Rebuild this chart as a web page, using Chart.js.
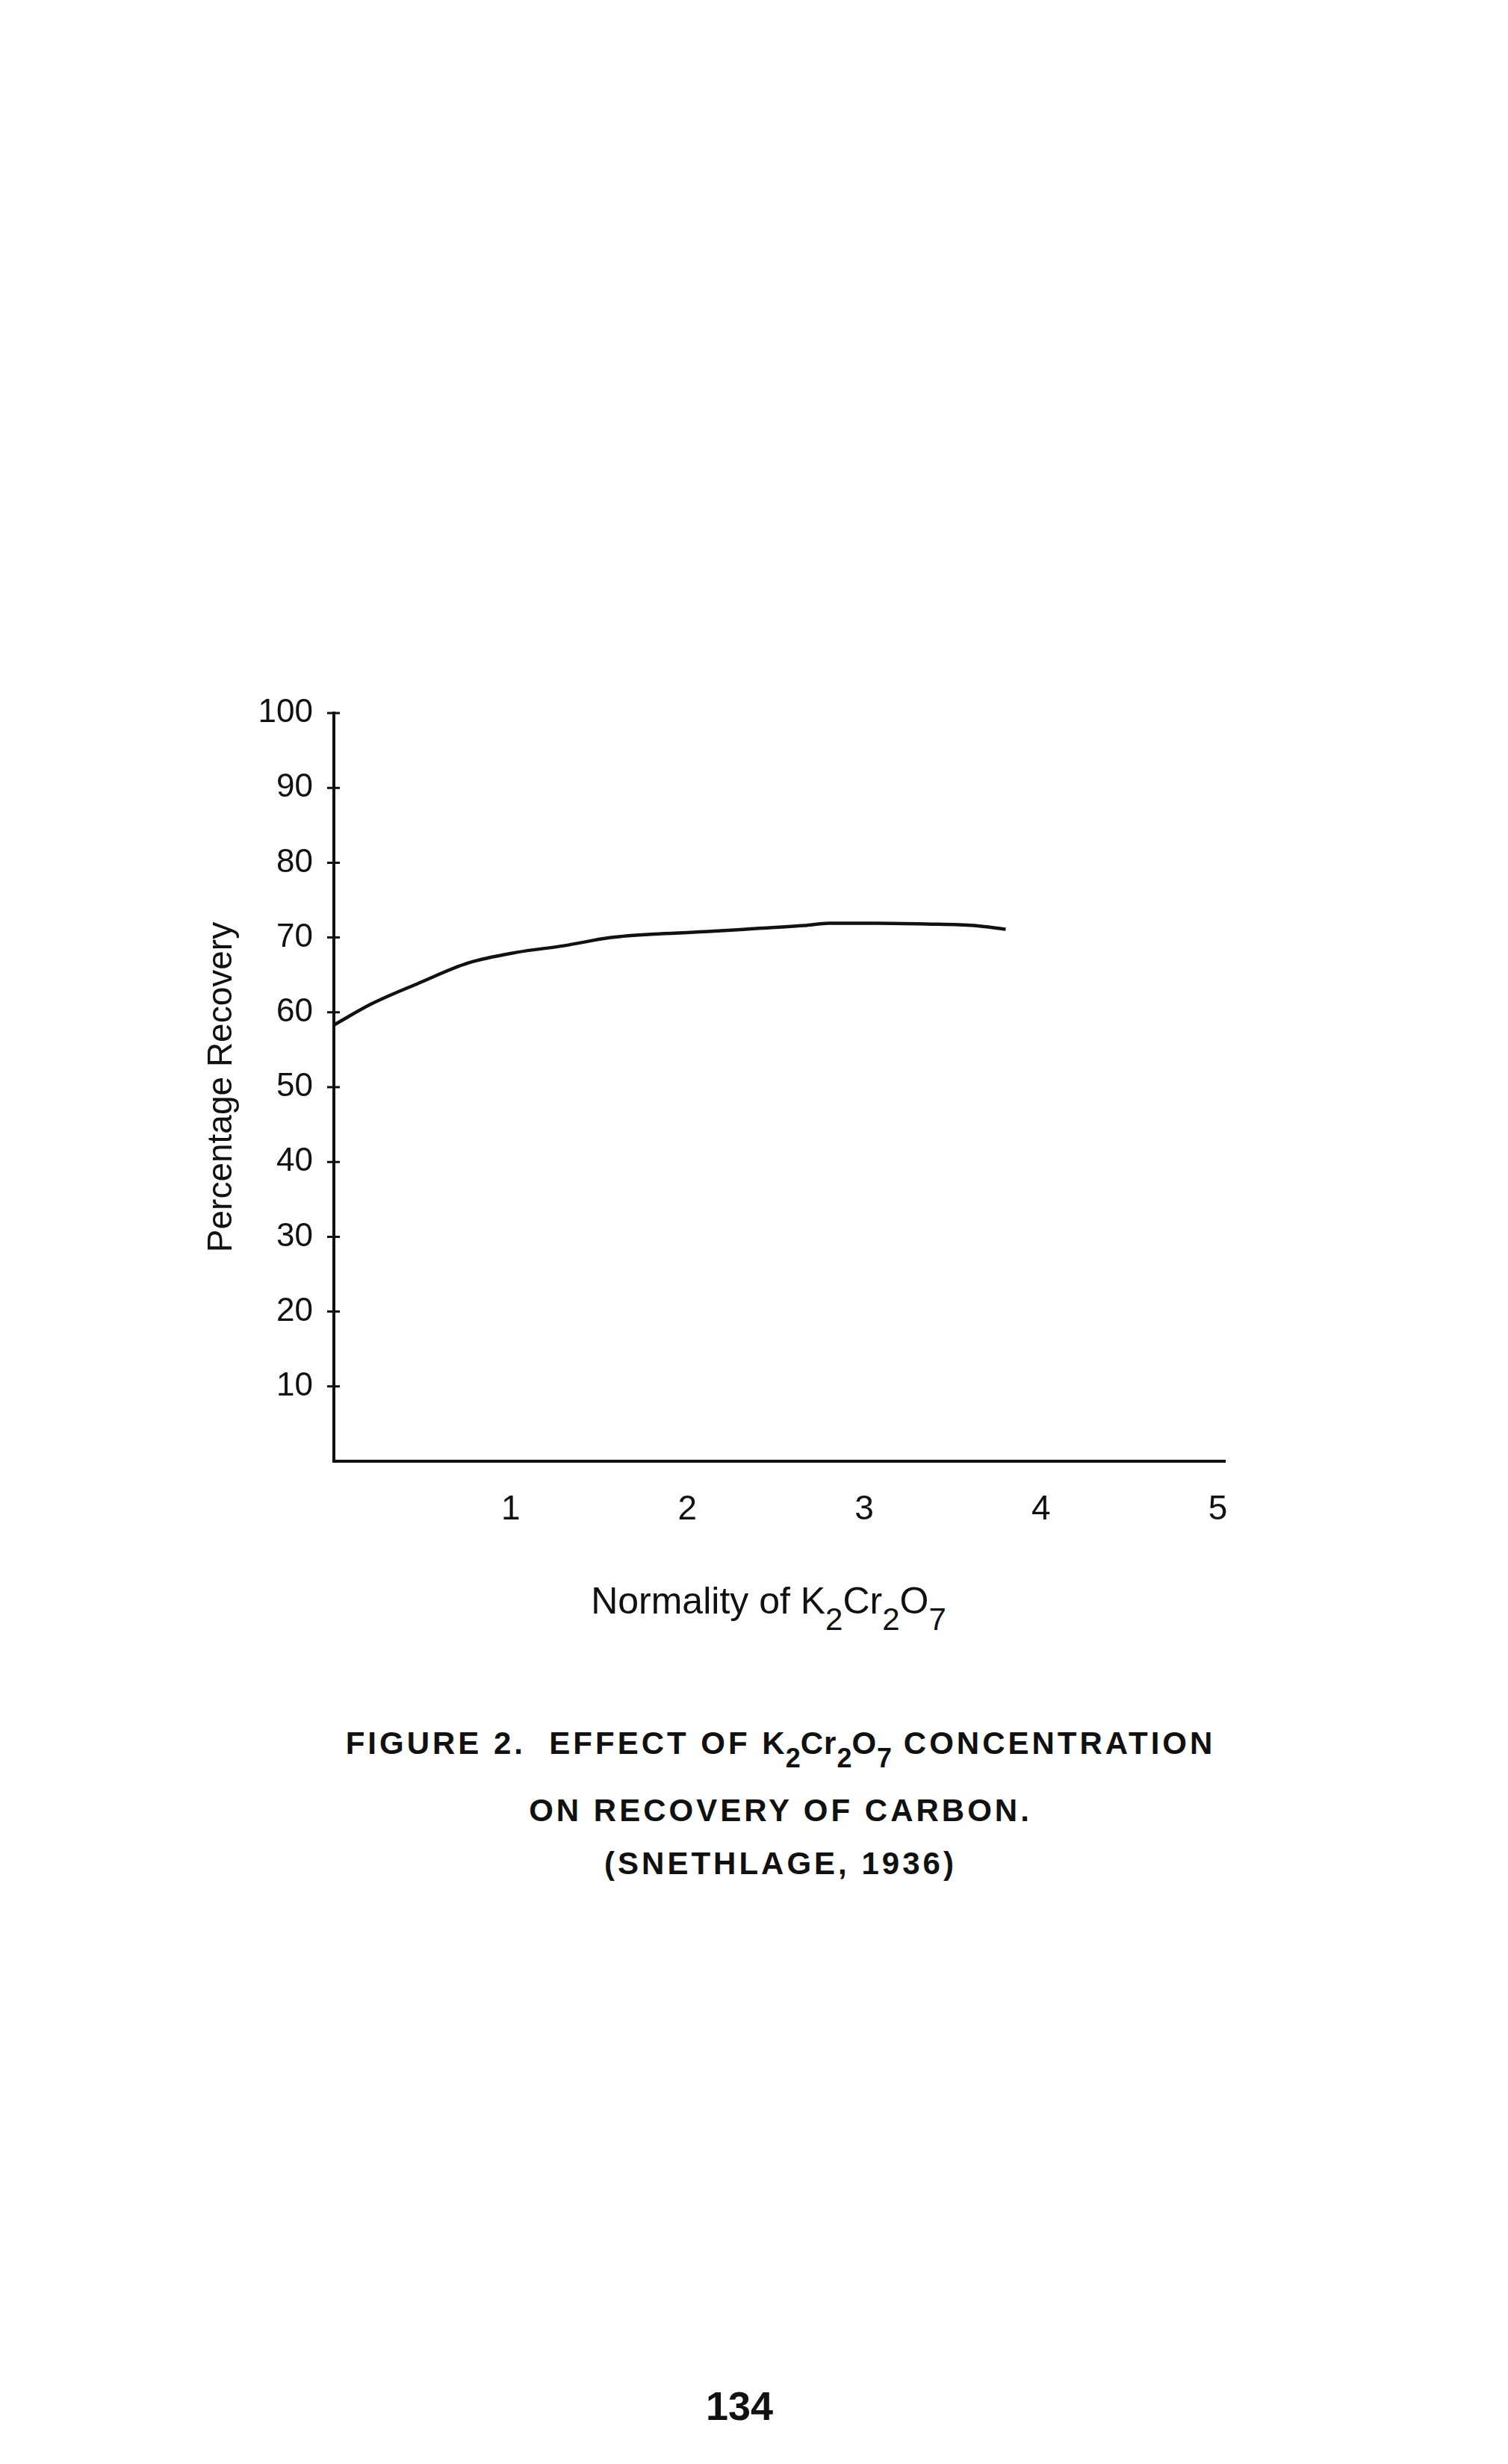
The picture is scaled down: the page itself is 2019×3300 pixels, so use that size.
<!DOCTYPE html>
<html>
<head>
<meta charset="utf-8">
<script src="https://cdn.jsdelivr.net/npm/chart.js@4"></script>
<style>
  html, body { margin: 0; padding: 0; background: #fff; }
  body { width: 2019px; height: 3300px; position: relative; overflow: hidden; font-family: "Liberation Sans", Arial, sans-serif; color: #111; }
  #wrap { position: absolute; left: 0; top: 0; width: 2019px; height: 2100px; }
  .xt { position: absolute; left: 0; width: 2058px; top: 2119px; text-align: center; font-size: 50px; line-height: 1; white-space: nowrap; }
  .xt sub { font-size: 42px; vertical-align: -22px; line-height: 0; }
  .cap { position: absolute; left: 0; width: 2090px; text-align: center; font-weight: bold; font-size: 42px; letter-spacing: 4px; line-height: 1; white-space: nowrap; }
  .cap sub { font-size: 36px; vertical-align: -18px; line-height: 0; letter-spacing: 0; }
  .cap .f { font-weight: bold; letter-spacing: 1px; }
  .pg { position: absolute; left: 0; width: 1980px; top: 3195px; text-align: center; font-weight: bold; font-size: 54px; line-height: 1; }
</style>
</head>
<body>
<div id="wrap"><canvas id="c" width="2019" height="2100"></canvas></div>
<div class="xt">Normality of K<sub>2</sub>Cr<sub>2</sub>O<sub>7</sub></div>
<div class="cap" style="top:2314px;">FIGURE 2.&nbsp; EFFECT OF <span class="f">K<sub>2</sub>Cr<sub>2</sub>O<sub>7</sub></span> CONCENTRATION</div>
<div class="cap" style="top:2404px;">ON RECOVERY OF CARBON.</div>
<div class="cap" style="top:2475px;">(SNETHLAGE, 1936)</div>
<div class="pg">134</div>
<script>
// Data
const normality = [0, 0.21, 0.48, 0.76, 1.03, 1.30, 1.57, 1.85, 2.12, 2.39, 2.66, 2.80, 3.07, 3.35, 3.62, 3.80];
const recovery  = [58.3, 61.1, 63.9, 66.6, 68.0, 68.9, 70.0, 70.5, 70.8, 71.2, 71.6, 71.9, 71.9, 71.8, 71.6, 71.1];
const xTickValues = [1, 2, 3, 4, 5];
const yTickValues = [10, 20, 30, 40, 50, 60, 70, 80, 90, 100];
const yTitle = "Percentage Recovery";

const points = normality.map((n, i) => ({ x: n, y: recovery[i] }));

const crossTicks = {
  id: 'crossTicks',
  afterDraw(chart) {
    const ys = chart.scales.y;
    const left = chart.chartArea.left;
    const ctx = chart.ctx;
    ctx.save();
    ctx.strokeStyle = '#111';
    ctx.lineWidth = 3;
    ctx.beginPath();
    ys.ticks.forEach(t => {
      const py = ys.getPixelForValue(t.value);
      ctx.moveTo(left - 9, py);
      ctx.lineTo(left + 8, py);
    });
    ctx.stroke();
    ctx.restore();
  }
};

new Chart(document.getElementById('c'), {
  type: 'scatter',
  data: {
    datasets: [{
      data: points,
      showLine: true,
      borderColor: '#111',
      borderWidth: 4.5,
      pointRadius: 0,
      cubicInterpolationMode: 'monotone',
      fill: false
    }]
  },
  options: {
    responsive: false,
    animation: false,
    devicePixelRatio: 1,
    layout: { padding: { left: 270, top: 955, right: 379, bottom: 43 } },
    plugins: { legend: { display: false }, tooltip: { enabled: false } },
    scales: {
      x: {
        type: 'linear',
        min: 0,
        max: 5.04,
        afterFit: (s) => { s.height = 100; },
        afterBuildTicks: (s) => { s.ticks = xTickValues.map(v => ({ value: v })); },
        grid: { display: false },
        border: { display: true, color: '#111', width: 4 },
        ticks: {
          padding: 30,
          color: '#111',
          font: { family: "'Liberation Sans', Arial, sans-serif", size: 46 },
          callback: (v) => String(v)
        }
      },
      y: {
        type: 'linear',
        min: 0,
        max: 100,
        afterFit: (s) => { s.width = 177; },
        afterBuildTicks: (s) => { s.ticks = yTickValues.map(v => ({ value: v })); },
        grid: { display: false },
        border: { display: true, color: '#111', width: 4 },
        title: {
          display: true,
          text: yTitle,
          color: '#111',
          padding: { top: 0, bottom: 0 },
          font: { family: "'Liberation Sans', Arial, sans-serif", size: 46 }
        },
        ticks: {
          padding: 20,
          color: '#111',
          font: { family: "'Liberation Sans', Arial, sans-serif", size: 44 },
          callback: (v) => String(v)
        }
      }
    }
  },
  plugins: [crossTicks]
});
</script>
</body>
</html>
